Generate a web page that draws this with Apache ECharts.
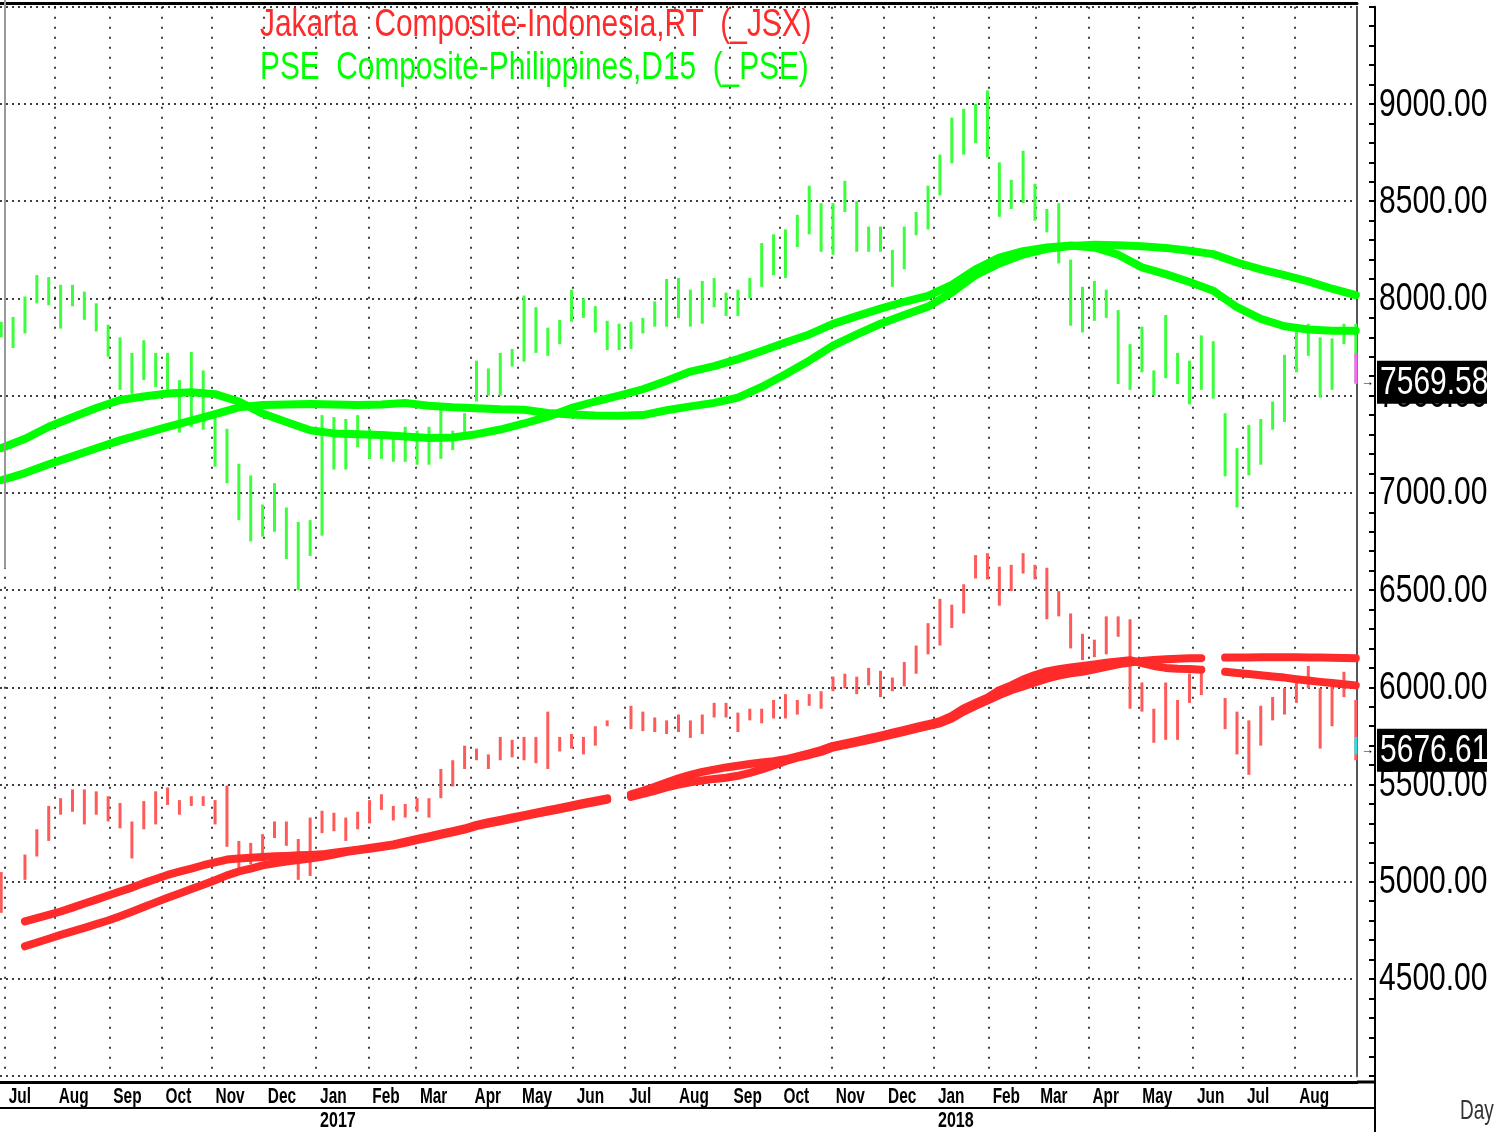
<!DOCTYPE html>
<html><head><meta charset="utf-8">
<script src="https://cdn.jsdelivr.net/npm/echarts/dist/echarts.min.js"></script>
<style>html,body{margin:0;padding:0;background:#fff}#c{width:1512px;height:1132px}</style>
</head><body><div id="c"></div>
<script>
// ---- data (weekly bars: index w = week whose Wednesday is the w*5-th weekday from 2016-06-29) ----
const pseLow  = [7800,7745,7820,7975,7965,7845,7960,7890,7830,7700,7530,7510,7580,7545,7530,7310,7340,7325,7135,7050,6860,6750,6775,6800,6660,6500,6675,6780,7120,7120,7235,7175,7175,7160,7160,7145,7145,7175,7220,7280,7470,7500,7500,7650,7675,7720,7705,7765,7880,7900,7825,7735,7735,7740,7820,7855,7855,7900,7855,7870,7955,7910,7910,8000,8060,8120,8105,8265,8330,8240,8225,8445,8240,8240,8240,8060,8150,8325,8355,8530,8695,8740,8800,8725,8420,8460,8490,8400,8340,8180,7860,7825,7885,7900,7560,7530,7620,7500,7590,7560,7455,7530,7485,7085,6925,7090,7145,7325,7365,7620,7705,7490,7530,7765,7560];
const pseHigh = [7880,7905,8010,8120,8110,8070,8070,8035,7975,7865,7800,7720,7785,7720,7720,7580,7725,7630,7390,7330,7150,7090,6940,7050,6925,6850,6860,7400,7390,7380,7400,7330,7300,7300,7340,7320,7340,7460,7320,7410,7680,7640,7720,7740,8015,7955,7850,7890,8045,8000,7960,7885,7870,7880,7900,7985,8100,8105,8045,8090,8105,8030,8045,8105,8285,8330,8355,8430,8580,8490,8490,8605,8500,8370,8370,8250,8370,8445,8580,8740,8930,8975,9000,9070,8700,8610,8760,8590,8460,8490,8200,8060,8090,8045,7940,7765,7855,7630,7915,7720,7680,7810,7780,7410,7230,7350,7380,7470,7710,7855,7870,7800,7795,7870,7870];
const jsxLow  = [4840,null,5010,5130,5210,5345,5360,5295,5345,5310,5275,5120,5270,5295,5395,5345,5390,5390,5295,5180,5060,5090,5135,5225,5185,5010,5030,5250,5260,5210,5270,5300,5370,5315,5330,5360,5330,5430,5490,5580,5625,5580,5625,5640,5625,5610,5580,5670,5685,5655,5700,5800,null,5785,5775,5770,5760,5770,5740,5760,5845,5845,5770,5830,5815,5840,5840,5860,5905,5890,5980,5995,5965,6010,5950,5980,6005,6070,6170,6215,6305,6380,6560,6555,6420,6495,6585,6555,6350,6365,6200,6140,6155,6170,6260,5890,5875,5715,5730,5730,5920,5960,null,5785,5655,5550,5700,5830,5860,5920,5995,5685,5800,5950,5625];
const jsxHigh = [5050,null,5140,5270,5390,5430,5475,5475,5465,5440,5405,5310,5415,5465,5485,5420,5440,5440,5420,5495,5210,5200,5245,5310,5310,5220,5330,5365,5355,5330,5360,5420,5450,5390,5400,5430,5430,5580,5625,5700,5685,5655,5745,5730,5745,5745,5875,5745,5760,5745,5800,5830,null,5905,5875,5845,5830,5860,5830,5860,5920,5920,5870,5890,5890,5935,5965,5935,5965,5980,6055,6070,6055,6100,6085,6050,6130,6215,6330,6455,6425,6530,6680,6690,6620,6630,6690,6630,6615,6495,6380,6275,6245,6365,6365,6350,6025,5890,6025,5935,6070,6085,null,5945,5875,5830,5905,5950,5995,6040,6110,5995,6010,6080,5935];
// last session's bar (highlighted in the source)
const pseLastDay = [7565, 7720];
const jsxLastDay = [5655, 5745];
// moving averages: PSE every 2 weeks, JSX every week
const pseMaFast = [7230,7278,7340,7389,7437,7478,7496,7511,7518,7508,7470,7408,7365,7322,7306,7302,7298,7290,7282,7285,7302,7326,7357,7392,7437,7470,7500,7533,7577,7624,7652,7688,7730,7773,7815,7869,7909,7948,7983,8013,8070,8150,8210,8243,8262,8272,8262,8225,8160,8125,8085,8040,7955,7895,7857,7840,7834,7834];
const pseMaSlow = [7065,7102,7147,7188,7230,7270,7305,7340,7372,7405,7440,7452,7455,7457,7455,7452,7455,7462,7448,7440,7435,7430,7428,7411,7403,7398,7397,7400,7425,7445,7463,7490,7545,7610,7680,7757,7815,7870,7915,7958,8030,8120,8180,8226,8255,8270,8276,8274,8268,8260,8245,8228,8185,8150,8120,8088,8050,8017];
const jsxMaFast = [4776,null,4796,4813,4830,4847,4867,4888,4908,4929,4950,4970,4993,5014,5035,5052,5068,5085,5100,5114,5120,5124,5127,5131,5133,5136,5138,5141,5149,5157,5165,5174,5183,5192,5206,5220,5233,5247,5260,5274,5293,5306,5318,5331,5343,5356,5368,5380,5392,5405,5417,5429,null,5450,5468,5488,5510,5532,5550,5565,5577,5588,5597,5606,5614,5620,5630,5645,5660,5677,5699,5712,5725,5738,5752,5767,5781,5796,5810,5826,5853,5892,5920,5947,5985,6010,6040,6063,6082,6093,6102,6110,6118,6126,6133,6140,6125,6110,6100,6096,6094,6090,null,6080,6074,6068,6062,6056,6050,6042,6035,6028,6022,6016,6010];
const jsxMaSlow = [4653,null,4668,4688,4707,4727,4745,4763,4782,4801,4823,4846,4870,4894,4918,4940,4963,4985,5008,5033,5053,5068,5084,5095,5104,5112,5120,5128,5140,5153,5162,5170,5178,5187,5200,5214,5227,5241,5254,5268,5286,5299,5311,5324,5336,5349,5361,5373,5385,5398,5410,5422,null,5436,5452,5468,5485,5500,5512,5521,5529,5535,5545,5560,5578,5598,5620,5638,5652,5668,5690,5703,5716,5729,5743,5757,5771,5786,5800,5815,5840,5875,5905,5932,5960,5985,6005,6025,6045,6060,6072,6080,6092,6105,6118,6128,6136,6141,6145,6147,6149,6150,null,6153,6154,6154,6155,6155,6155,6155,6154,6153,6152,6151,6150];
const pseLast = 7569.58, jsxLast = 5676.61;
const yMin = 4000, yMax = 9500, yStep = 500;
const yLabelValues = [4500,5000,5500,6000,6500,7000,7500,8000,8500,9000];
const monthNames = ['Jan','Feb','Mar','Apr','May','Jun','Jul','Aug','Sep','Oct','Nov','Dec'];
const titleJsx = 'Jakarta  Composite-Indonesia,RT  (_JSX)';
const titlePse = 'PSE  Composite-Philippines,D15  (_PSE)';
const periodLabel = 'Day';

// ---- weekday calendar (category axis) ----
const days = [];
for (let d = new Date(Date.UTC(2016,5,29)); d <= new Date(Date.UTC(2018,8,5)); d.setUTCDate(d.getUTCDate()+1)) {
  const wd = d.getUTCDay(); if (wd === 0 || wd === 6) continue;
  days.push(d.toISOString().slice(0,10));
}
const lastIdx = days.length - 1;
const isMonthStart = i => i > 0 && i < lastIdx - 4 && days[i].slice(5,7) !== days[i-1].slice(5,7);
const isYearStart = i => i > 0 && days[i].slice(0,4) !== days[i-1].slice(0,4);

const bars = (lo, hi) => lo.map((v,w) => [5*w, v, hi[w]]).filter(r => r[1] != null);
const line = (arr, step) => arr.map((v,k) => [step*k, v]);

function barRenderer(color, width){
  return function(params, api){
    const x = api.value(0);
    const p1 = api.coord([x, api.value(1)]);
    const p2 = api.coord([x, api.value(2)]);
    return {type:'line', shape:{x1:p1[0], y1:p1[1], x2:p2[0], y2:p2[1]}, style:{stroke:color, lineWidth:width}};
  };
}
const maLine = (data, color) => ({type:'line', data, showSymbol:false, symbol:'none', connectNulls:false,
  lineStyle:{color, width:8, cap:'round', join:'round'}, itemStyle:{color}, animation:false, z:3});

const chart = echarts.init(document.getElementById('c'), null, {renderer:'canvas'});
chart.setOption({
  backgroundColor:'#fff',
  animation:false,
  grid:{left:0, right:155, top:6.8, bottom:55.8, containLabel:false},
  xAxis:[
    {type:'category', data:days, position:'bottom', offset:6, boundaryGap:true,
     axisLine:{lineStyle:{color:'#000', width:3}},
     axisTick:{interval:(i)=>isMonthStart(i), length:25, lineStyle:{color:'#000', width:2}},
     axisLabel:{show:false},
     splitLine:{show:true, interval:(i)=>isMonthStart(i), lineStyle:{color:'#000', type:[2,8], width:1.5}}},
    {type:'category', data:days, position:'bottom', offset:32, boundaryGap:true,
     axisLine:{lineStyle:{color:'#000', width:2}},
     axisTick:{interval:(i)=>isYearStart(i), length:25, lineStyle:{color:'#000', width:2}},
     axisLabel:{show:false}, splitLine:{show:false}},
    {type:'category', data:days, position:'top', offset:4, boundaryGap:true,
     axisLine:{lineStyle:{color:'#000', width:3}}, axisTick:{show:false}, axisLabel:{show:false}, splitLine:{show:false}}
  ],
  yAxis:[
    {type:'value', position:'right', offset:18, min:yMin, max:yMax, interval:yStep,
     axisLine:{show:true, lineStyle:{color:'#000', width:2}},
     axisTick:{show:true, inside:true, length:6, lineStyle:{color:'#000', width:2}},
     minorTick:{show:true, splitNumber:5, length:6, lineStyle:{color:'#000', width:2}},
     axisLabel:{show:false},
     splitLine:{show:true, lineStyle:{color:'#000', type:[2,4], width:1.5}}},
    {type:'value', position:'right', offset:0, min:yMin, max:yMax, interval:yStep,
     axisLine:{show:true, lineStyle:{color:'#555', width:2}}, axisTick:{show:false}, axisLabel:{show:false}, splitLine:{show:false}}
  ],
  series:[
    {type:'custom', name:'PSE', renderItem:barRenderer('#3cff3c', 3), data:bars(pseLow, pseHigh), encode:{x:0, y:[1,2]}, z:2, animation:false},
    {type:'custom', name:'JSX', renderItem:barRenderer('#ff5a5a', 3), data:bars(jsxLow, jsxHigh), encode:{x:0, y:[1,2]}, z:2, animation:false},
    maLine(line(pseMaFast,10), '#00ff00'),
    maLine(line(pseMaSlow,10), '#00ff00'),
    maLine(line(jsxMaFast,5), '#ff2a2a'),
    maLine(line(jsxMaSlow,5), '#ff2a2a'),
    {type:'custom', name:'PSE last', renderItem:barRenderer('#ff66ff', 3), data:[[lastIdx, pseLastDay[0], pseLastDay[1]]], encode:{x:0, y:[1,2]}, z:4, animation:false},
    {type:'custom', name:'JSX last', renderItem:barRenderer('#33dddd', 3), data:[[lastIdx, jsxLastDay[0], jsxLastDay[1]]], encode:{x:0, y:[1,2]}, z:4, animation:false}
  ]
});

// ---- text layer (narrow fonts emulated with horizontal scaling), positioned through the chart's scales ----
const FONT = '"Liberation Sans", Arial, sans-serif';
function txt(x, y, s, size, o){
  o = o || {};
  const al = o.align || 'left', va = o.va || 'middle';
  return {type:'text', x, y, scaleX:o.scale || 1, z:100, silent:true,
    style:{text:s, font:(o.bold ? 'bold ' : '') + size + 'px ' + FONT, fill:o.color || '#000',
      align:al, verticalAlign:va, textAlign:al, textVerticalAlign:va}};
}
const seg = (x1, y1, x2, y2, w, c) => ({type:'line', z:100, silent:true, shape:{x1, y1, x2, y2}, style:{stroke:c || '#000', lineWidth:w}});
const yPix = v => chart.convertToPixel({yAxisIndex:0}, v);
const xPix = i => chart.convertToPixel({xAxisIndex:0}, i);
const bw = xPix(1) - xPix(0);
const plotRight = xPix(lastIdx) + bw/2;
const yAxisX = plotRight + 18;
const g = [];
// frame of the date box continues to the price-axis line
g.push(seg(yAxisX, yPix(yMin), yAxisX, 1132, 2));
g.push(seg(plotRight, 1082, yAxisX, 1082, 3));
g.push(seg(plotRight, 1108, yAxisX, 1108, 2));
g.push(seg(5, 0, 5, 568, 2, '#999'));
g.push(txt(260, 26, titleJsx, 38, {color:'#ff2a2a', scale:0.785}));
g.push(txt(260, 69, titlePse, 38, {color:'#00ff00', scale:0.785}));
yLabelValues.forEach(v => g.push(txt(yAxisX + 4, yPix(v) + 1, v.toFixed(2), 38, {scale:0.79})));
days.forEach((d, i) => {
  if (isMonthStart(i)) g.push(txt(xPix(i) - bw/2 + 4, 1097, monthNames[+d.slice(5,7)-1], 22, {bold:true, scale:0.7}));
  if (isYearStart(i)) g.push(txt(xPix(i) - bw/2 + 4, 1121, d.slice(0,4), 22, {bold:true, scale:0.73}));
});
g.push(txt(1460, 1111, periodLabel, 28, {color:'#333', scale:0.68}));
[pseLast, jsxLast].forEach(val => {
  const y = yPix(val);
  g.push({type:'rect', z:110, silent:true, shape:{x:yAxisX + 2, y:y - 21.5, width:110, height:43}, style:{fill:'#000'}});
  g.push(Object.assign(txt(yAxisX + 5, y + 1, val.toFixed(2), 38, {color:'#fff', scale:0.79}), {z:120}));
  g.push(txt(plotRight + 4, y, '\u2192', 13, {}));
});
chart.setOption({graphic:{elements:g}});
</script>
</body></html>
